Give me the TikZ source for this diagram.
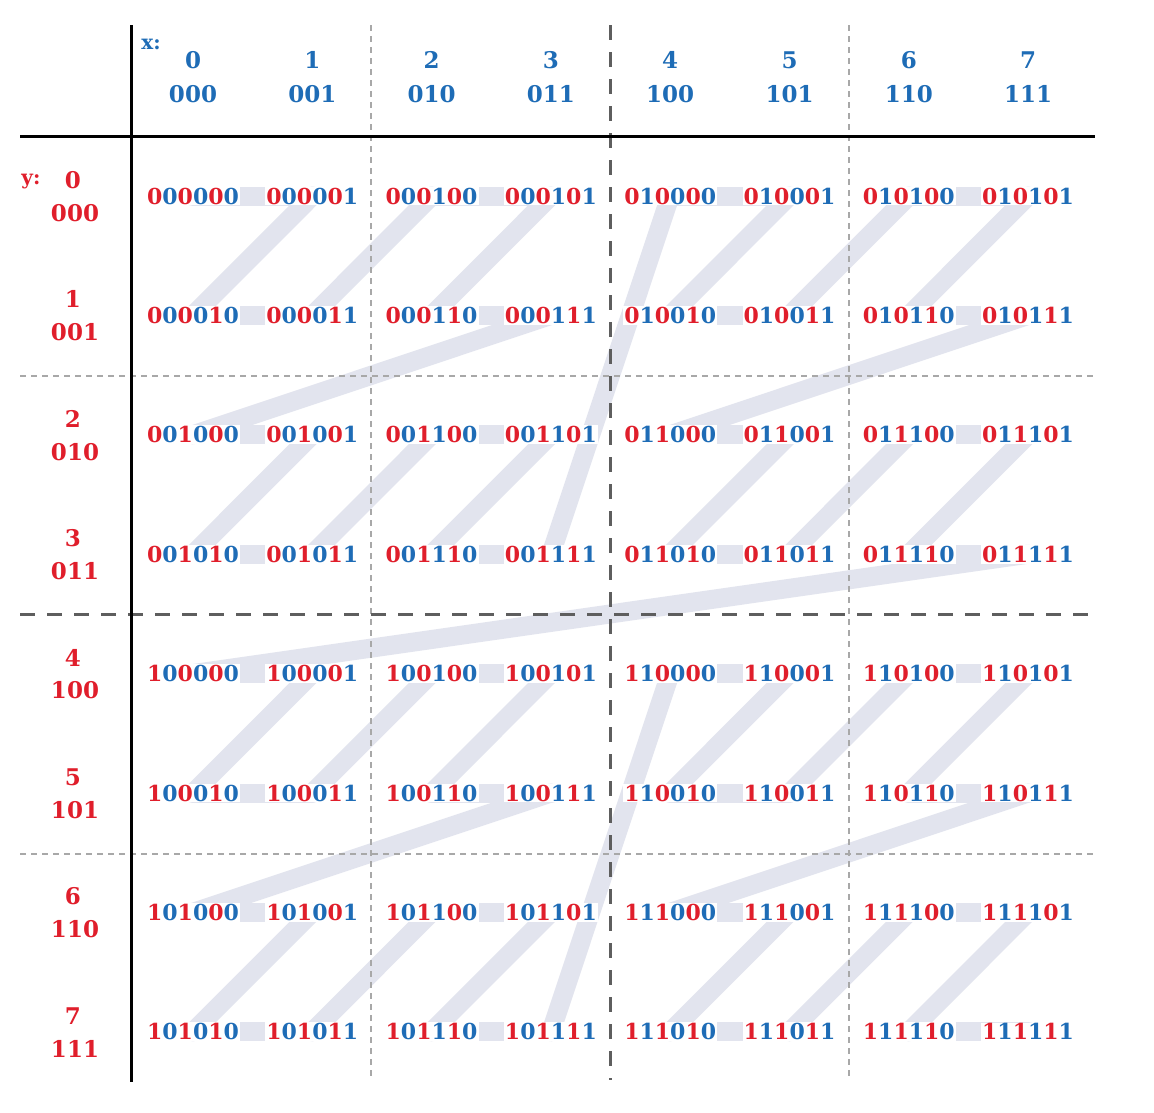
\documentclass[tikz,border=0pt]{standalone}
\usepackage{fontspec}
\setmainfont{DejaVu Serif}
\usetikzlibrary{backgrounds}

\definecolor{zred}{HTML}{E01E2B}
\definecolor{zblue}{HTML}{1E6CB6}
\definecolor{zband}{HTML}{E2E4EE}
\definecolor{zgrid}{HTML}{5E5E5E}
\definecolor{zdot}{HTML}{A8A8A8}

\tikzset{
  code/.style={font=\bfseries\fontsize{22}{22}\selectfont,inner sep=1pt,fill=white},
  xhead/.style={font=\bfseries\fontsize{23}{23}\selectfont,text=zblue,inner sep=0pt},
  yhead/.style={font=\bfseries\fontsize{23}{23}\selectfont,text=zred,inner sep=0pt},
  band/.style={zband,line width=19pt,line cap=round},
  axis/.style={black,line width=3pt},
  blockline/.style={zgrid,line width=3pt,dash pattern=on 15pt off 12pt},
  subline/.style={zdot,line width=2.5pt,dash pattern=on 6pt off 5pt},
}

\begin{document}
\begin{tikzpicture}[x=1pt,y=-1pt]
\useasboundingbox (0,0) rectangle (1154,1112);

% headers
\node[xhead,font=\bfseries\fontsize{20}{20}\selectfont] (xlab) at (151,44) {x:};
\node[yhead,font=\bfseries\fontsize{20}{20}\selectfont] (ylab) at (31,182) {y:};
\foreach \i in {0,...,7}{
  \pgfmathtruncatemacro\ba{int(\i/4)}
  \pgfmathtruncatemacro\bb{mod(int(\i/2),2)}
  \pgfmathtruncatemacro\bc{mod(\i,2)}
  \node[xhead] (xn\i) at ({193+119.3*\i},60) {\i};
  \node[xhead] (xb\i) at ({193+119.3*\i},94) {\ba\bb\bc};
  \node[yhead] (yn\i) at (73,{180+119.4*\i}) {\i};
  \node[yhead] (yb\i) at (75,{213+119.4*\i}) {\ba\bb\bc};
}

% interleaved codes
\foreach \yy in {0,...,7}{
  \foreach \xx in {0,...,7}{
    \pgfmathtruncatemacro\xa{int(\xx/4)}
    \pgfmathtruncatemacro\xb{mod(int(\xx/2),2)}
    \pgfmathtruncatemacro\xc{mod(\xx,2)}
    \pgfmathtruncatemacro\ya{int(\yy/4)}
    \pgfmathtruncatemacro\yb{mod(int(\yy/2),2)}
    \pgfmathtruncatemacro\yc{mod(\yy,2)}
    \node[code] (c\xx\yy) at ({193+119.3*\xx},{196+119.4*\yy})
      {\textcolor{zred}{\ya}\textcolor{zblue}{\xa}\textcolor{zred}{\yb}\textcolor{zblue}{\xb}\textcolor{zred}{\yc}\textcolor{zblue}{\xc}};
  }
}

\begin{scope}[on background layer]
  \fill[white] (0,0) rectangle (1154,1112);
  % z-order curve
  \foreach \n [remember=\n as \m (initially 0)] in {1,...,63}{
    \pgfmathtruncatemacro\xm{mod(\m,2)+2*mod(int(\m/4),2)+4*mod(int(\m/16),2)}
    \pgfmathtruncatemacro\ym{mod(int(\m/2),2)+2*mod(int(\m/8),2)+4*int(\m/32)}
    \pgfmathtruncatemacro\xn{mod(\n,2)+2*mod(int(\n/4),2)+4*mod(int(\n/16),2)}
    \pgfmathtruncatemacro\yn{mod(int(\n/2),2)+2*mod(int(\n/8),2)+4*int(\n/32)}
    \draw[band] (c\xm\ym.center) -- (c\xn\yn.center);
  }
  % grid
  \draw[subline] (371,25) -- (371,1080);
  \draw[subline] (849,25) -- (849,1080);
  \draw[subline] (20,376) -- (1095,376);
  \draw[subline] (20,854) -- (1095,854);
  \draw[blockline] (610,25) -- (610,1080);
  \draw[blockline] (20,614) -- (1095,614);
  \draw[axis] (131,25) -- (131,1082);
  \draw[axis] (20,136) -- (1095,136);
\end{scope}
\end{tikzpicture}
\end{document}
